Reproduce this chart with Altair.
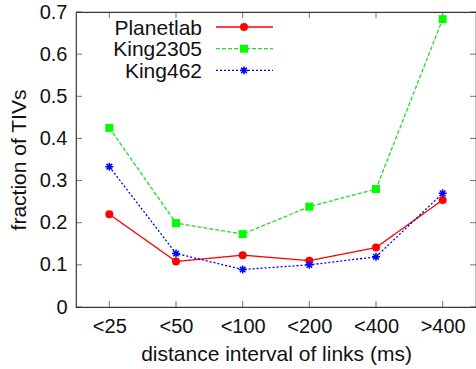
import altair as alt
import pandas as pd

categories = ["<25", "<50", "<100", "<200", "<400", ">400"]
series = ["Planetlab", "King2305", "King462"]
planetlab = [0.220, 0.108, 0.123, 0.110, 0.141, 0.254]
king2305 = [0.425, 0.199, 0.173, 0.238, 0.280, 0.683]
king462 = [0.333, 0.127, 0.089, 0.100, 0.119, 0.270]
y_ticks = [0, 0.1, 0.2, 0.3, 0.4, 0.5, 0.6, 0.7]

line_colors = ["#ff0000", "#22dd22", "#0000ff"]
marker_colors = ["#ff0000", "#00ff00", "#0000ff"]
dashes = [[1, 0], [4, 2], [2, 2]]
ASTERISK = "M-1,0L1,0M0,-1L0,1M-0.7,-0.7L0.7,0.7M-0.7,0.7L0.7,-0.7"
shapes = ["circle", "square", ASTERISK]

W, H = 400, 295
FONT = "Liberation Sans"
FRAME = "#383838"
TXT = "#111111"

x_scale = alt.Scale(type="point", domain=categories, padding=0.5)
y_scale = alt.Scale(domain=[0, 0.7], nice=False, zero=True)

x_axis = alt.Axis(
    ticks=False, domain=False, grid=False, labelAngle=0,
    labelFontSize=20, labelFont=FONT, labelColor=TXT, labelPadding=9,
    title="distance interval of links (ms)", titleFontSize=21, titleFont=FONT,
    titleFontWeight="normal", titleColor=TXT, titlePadding=7,
)
y_axis = alt.Axis(
    values=y_ticks, format="~g", ticks=False, domain=False, grid=False,
    labelFontSize=20, labelFont=FONT, labelColor=TXT, labelPadding=9,
    title="fraction of TIVs", titleFontSize=21, titleFont=FONT,
    titleFontWeight="normal", titleColor=TXT, titlePadding=10,
)


def X():
    return alt.X("interval:N", scale=x_scale, axis=x_axis, sort=categories)


def Y():
    return alt.Y("value:Q", scale=y_scale, axis=y_axis)


rows = []
for name, vals in zip(series, [planetlab, king2305, king462]):
    for c, v in zip(categories, vals):
        rows.append({"series": name, "interval": c, "value": v})
df = pd.DataFrame(rows)

layers = []

# inward ticks (gnuplot style)
ydf = pd.DataFrame({"value": y_ticks})
xdf = pd.DataFrame({"interval": categories})
for xc in [3, W - 3]:
    layers.append(
        alt.Chart(ydf).mark_tick(orient="horizontal", color=FRAME, thickness=1, size=6).encode(
            y=Y(), x=alt.value(xc)
        )
    )
for yc in [3, H - 3]:
    layers.append(
        alt.Chart(xdf).mark_tick(orient="vertical", color=FRAME, thickness=1, size=6).encode(
            x=X(), y=alt.value(yc)
        )
    )

for i, name in enumerate(series):
    sdf = df[df["series"] == name]
    layers.append(
        alt.Chart(sdf).mark_line(color=line_colors[i], strokeWidth=1.3, strokeDash=dashes[i]).encode(x=X(), y=Y())
    )
    filled = i < 2
    layers.append(
        alt.Chart(sdf).mark_point(
            shape=shapes[i], filled=filled, color=marker_colors[i], opacity=1,
            size=64, strokeWidth=1.5,
        ).encode(x=X(), y=Y())
    )

    # legend entry (gnuplot style: label then sample)
    ly = 15 + 21.7 * i
    ldf = pd.DataFrame({"series": [name]})
    layers.append(
        alt.Chart(ldf).mark_text(align="right", baseline="alphabetic", fontSize=21, font=FONT, color=TXT).encode(
            text="series:N", x=alt.value(126), y=alt.value(ly + 7.5)
        )
    )
    layers.append(
        alt.Chart(ldf).mark_rule(color=line_colors[i], strokeWidth=1.3, strokeDash=dashes[i]).encode(
            x=alt.value(140), x2=alt.value(197), y=alt.value(ly)
        )
    )
    layers.append(
        alt.Chart(ldf).mark_point(
            shape=shapes[i], filled=filled, color=marker_colors[i], opacity=1,
            size=64, strokeWidth=1.5,
        ).encode(x=alt.value(168), y=alt.value(ly))
    )

chart = alt.layer(*layers).properties(
    width=W, height=H,
    autosize=alt.AutoSizeParams(type="none"),
    padding={"left": 76, "top": 12, "right": 0, "bottom": 62},
    background="white",
).configure_view(stroke=FRAME, strokeWidth=1.2)

chart.save("out.html", embed_options={"renderer": "svg", "actions": False})
